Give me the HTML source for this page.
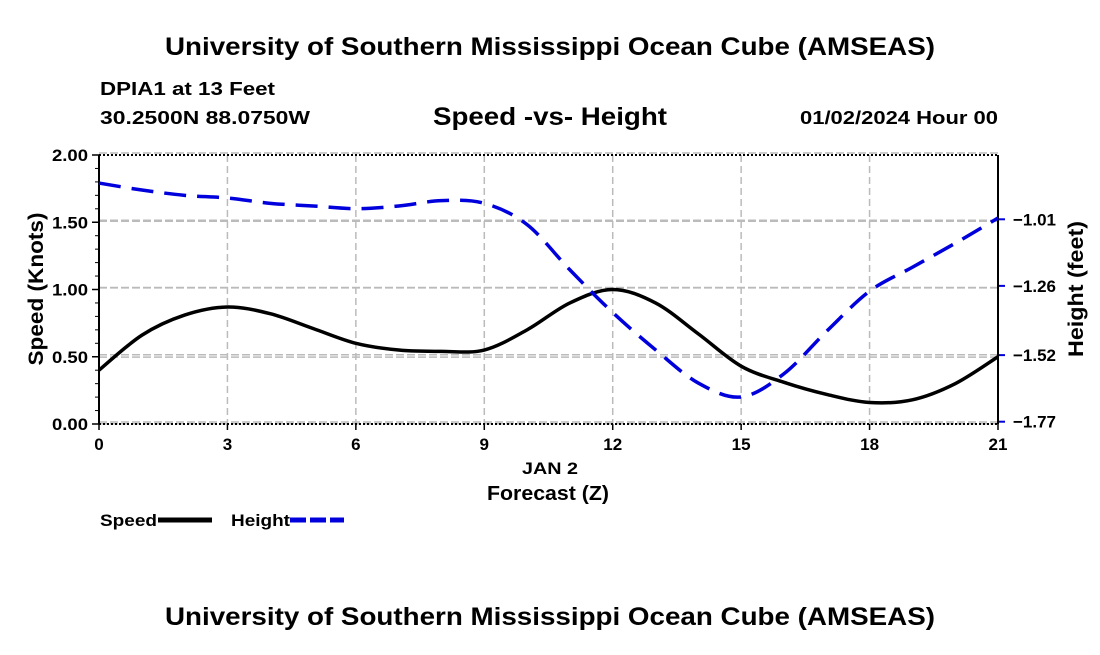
<!DOCTYPE html>
<html><head><meta charset="utf-8"><style>
body{margin:0;background:#fff;width:1100px;height:650px;overflow:hidden;font-family:"Liberation Sans",sans-serif}
svg text{font-family:"Liberation Sans",sans-serif;font-weight:bold;fill:#000}
</style></head><body>
<svg id="chart" width="1100" height="650" xmlns="http://www.w3.org/2000/svg">
<text x="165" y="55" font-size="25" textLength="770" lengthAdjust="spacingAndGlyphs">University of Southern Mississippi Ocean Cube (AMSEAS)</text>
<text x="100" y="95" font-size="18" textLength="175" lengthAdjust="spacingAndGlyphs">DPIA1 at 13 Feet</text>
<text x="100" y="124" font-size="18" textLength="210" lengthAdjust="spacingAndGlyphs">30.2500N  88.0750W</text>
<text x="433" y="125" font-size="25" textLength="234" lengthAdjust="spacingAndGlyphs">Speed -vs- Height</text>
<text x="800" y="124" font-size="18" textLength="198" lengthAdjust="spacingAndGlyphs">01/02/2024 Hour 00</text>
<g id="grid"></g><g id="axes"></g><g id="series"></g>
<text transform="translate(43,289) rotate(-90)" font-size="21" text-anchor="middle" textLength="153" lengthAdjust="spacingAndGlyphs">Speed (Knots)</text>
<text transform="translate(1083,289) rotate(-90)" font-size="21" text-anchor="middle" textLength="136" lengthAdjust="spacingAndGlyphs">Height (feet)</text>
<text x="522" y="474" font-size="17" textLength="56" lengthAdjust="spacingAndGlyphs">JAN 2</text>
<text x="487" y="500" font-size="20" textLength="122" lengthAdjust="spacingAndGlyphs">Forecast (Z)</text>
<g>
<text x="100" y="526" font-size="17" textLength="57" lengthAdjust="spacingAndGlyphs">Speed</text>
<line x1="158" y1="520" x2="212" y2="520" stroke="#000" stroke-width="5"/>
<text x="231" y="526" font-size="17" textLength="59" lengthAdjust="spacingAndGlyphs">Height</text>
<line x1="290" y1="520" x2="344" y2="520" stroke="#0000dd" stroke-width="5" stroke-dasharray="16,4"/>
</g>
<text x="165" y="625" font-size="25" textLength="770" lengthAdjust="spacingAndGlyphs">University of Southern Mississippi Ocean Cube (AMSEAS)</text>
</svg>
<script>
const hours=[0,1,2,3,4,5,6,7,8,9,10,11,12,13,14,15,16,17,18,19,20,21];
const speedValues=[0.40,0.66,0.81,0.87,0.82,0.71,0.60,0.55,0.54,0.55,0.70,0.90,1.00,0.90,0.67,0.43,0.31,0.22,0.16,0.18,0.30,0.50];
const heightValues=[-0.874,-0.90,-0.92,-0.93,-0.95,-0.96,-0.97,-0.96,-0.94,-0.95,-1.03,-1.20,-1.36,-1.50,-1.625,-1.677,-1.59,-1.43,-1.28,-1.19,-1.10,-1.005];
const xTicks=[0,3,6,9,12,15,18,21];
const speedTicks=[0,0.5,1,1.5,2];
const speedTickLabels=["0.00","0.50","1.00","1.50","2.00"];
const heightTicks=[-1.77,-1.52,-1.26,-1.01];
const heightTickLabels=["\u22121.77","\u22121.52","\u22121.26","\u22121.01"];
const NS="http://www.w3.org/2000/svg";
const X0=99,X1=998,YT=155,YB=424;
const xS=h=>X0+(h-0)/(21-0)*(X1-X0);
const yS=v=>YB-v/2*(YB-YT);
const yH=h=>421.7-(h+1.77)*(421.7-219.3)/0.76;
function mk(tag,attrs,parent){const e=document.createElementNS(NS,tag);for(const k in attrs)e.setAttribute(k,attrs[k]);parent.appendChild(e);return e;}
const grid=document.getElementById('grid'),axes=document.getElementById('axes'),series=document.getElementById('series');
xTicks.forEach(t=>{
 const l=mk('line',{x1:xS(t),x2:xS(t),y1:YT,y2:YB,stroke:'#bbb','stroke-width':1.5,'stroke-dasharray':'7,4'},grid);
 
 
 const tk=mk('line',{x1:xS(t),x2:xS(t),y1:YB,y2:YB+6,stroke:'#000','stroke-width':1.5},axes);
 
 
 const tx=mk('text',{x:xS(t),y:YB+26,'font-size':17,'text-anchor':'middle'},axes);tx.textContent=t;
 
 
});
speedTicks.forEach((t,i)=>{
 const l=mk('line',{x1:X0,x2:X1,y1:yS(t)-2,y2:yS(t)-2,stroke:'#bbb','stroke-width':1.5,'stroke-dasharray':'8,3'},grid);
 
 
 const tk=mk('line',{x1:X0-7,x2:X0,y1:yS(t),y2:yS(t),stroke:'#000','stroke-width':1.5},axes);
 
 
 const tx=mk('text',{x:X0-11,y:yS(t)+6,'font-size':17,'text-anchor':'end',textLength:36,lengthAdjust:'spacingAndGlyphs'},axes);tx.textContent=speedTickLabels[i];
 
 
});
for(let v=0.1;v<2;v+=0.1){const m=mk('line',{x1:X0-4,x2:X0,y1:yS(v),y2:yS(v),stroke:'#000','stroke-width':1},axes);
 
 }
heightTicks.forEach((t,i)=>{
 const l=mk('line',{x1:X0,x2:X1,y1:yH(t)+2,y2:yH(t)+2,stroke:'#bbb','stroke-width':1.5,'stroke-dasharray':'8,3'},grid);
 
 
 const tk=mk('line',{x1:X1,x2:X1+7,y1:yH(t),y2:yH(t),stroke:'#0000dd','stroke-width':2},axes);
 
 
 const tx=mk('text',{x:X1+15,y:yH(t)+6,'font-size':17,textLength:43,lengthAdjust:'spacingAndGlyphs'},axes);tx.textContent=heightTickLabels[i];
 
 
});
[[X0,YT,X1,YT,'2,2'],[X0,YB,X1,YB,'2,2']].forEach(a=>{const l=mk('line',{x1:a[0],y1:a[1],x2:a[2],y2:a[3],stroke:'#000','stroke-width':2,'stroke-dasharray':a[4]},axes);
 
 });
const la=mk('line',{x1:X0,y1:YT,x2:X0,y2:YB,stroke:'#000','stroke-width':2},axes);


const ra=mk('line',{x1:X1,y1:YT,x2:X1,y2:YB,stroke:'#000','stroke-width':2},axes);


function smooth(pts){let d=`M${pts[0][0]},${pts[0][1]}`;for(let i=0;i<pts.length-1;i++){const p0=pts[i-1]||pts[i],p1=pts[i],p2=pts[i+1],p3=pts[i+2]||p2;
 d+=` C${p1[0]+(p2[0]-p0[0])/6},${p1[1]+(p2[1]-p0[1])/6} ${p2[0]-(p3[0]-p1[0])/6},${p2[1]-(p3[1]-p1[1])/6} ${p2[0]},${p2[1]}`;}return d;}
const sp=mk('path',{d:smooth(hours.map((h,i)=>[xS(h),yS(speedValues[i])])),fill:'none',stroke:'#000','stroke-width':3.5},series);


const hp=mk('path',{d:smooth(hours.map((h,i)=>[xS(h),yH(heightValues[i])])),fill:'none',stroke:'#0000dd','stroke-width':3.5,'stroke-dasharray':'22,11'},series);


</script>
</body></html>
